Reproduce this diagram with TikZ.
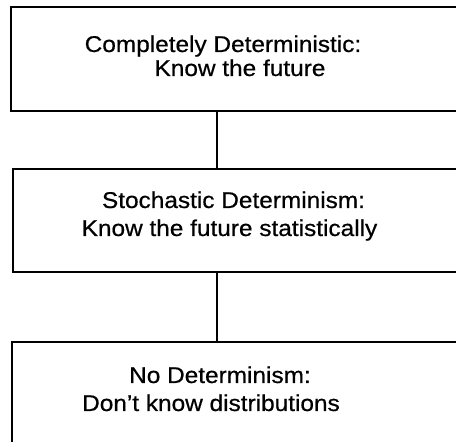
\documentclass[tikz,border=0pt]{standalone}
\usepackage{fontspec}
\setmainfont{Liberation Sans}[FakeStretch=1.07,FakeBold=0.6]
\begin{document}
\begin{tikzpicture}[x=1pt,y=1pt,
  box/.style={draw=black,line width=2pt,rectangle,inner sep=0pt},
  line/.style={draw=black,line width=2pt},
  txt/.style={anchor=base,inner sep=0pt,font=\fontsize{22.8}{27}\selectfont}]
\useasboundingbox (0,0) rectangle (456,442);
\clip (0,0) rectangle (456,442);
\node[box,minimum width=457pt,minimum height=104pt] (b1) at (239.5,383) {};
\node[box,minimum width=455pt,minimum height=103pt] (b2) at (240.5,221.5) {};
\node[box,minimum width=456pt,minimum height=110pt] (b3) at (240,45) {};
\coordinate (cx) at (217,0);
\draw[line] (b1.south -| cx) -- (b2.north -| cx);
\draw[line] (b2.south -| cx) -- (b3.north -| cx);
\node[txt] (t1a) at (223,390) {Completely Deterministic:};
\node[txt] (t1b) at (240,366) {Know the future};
\node[txt] (t2a) at (233.5,234) {Stochastic Determinism:};
\node[txt] (t2b) at (229.5,206) {Know the future statistically};
\node[txt] (t3a) at (220,59) {No Determinism:};
\node[txt] (t3b) at (211,31) {Don’t know distributions};
\end{tikzpicture}
\end{document}
